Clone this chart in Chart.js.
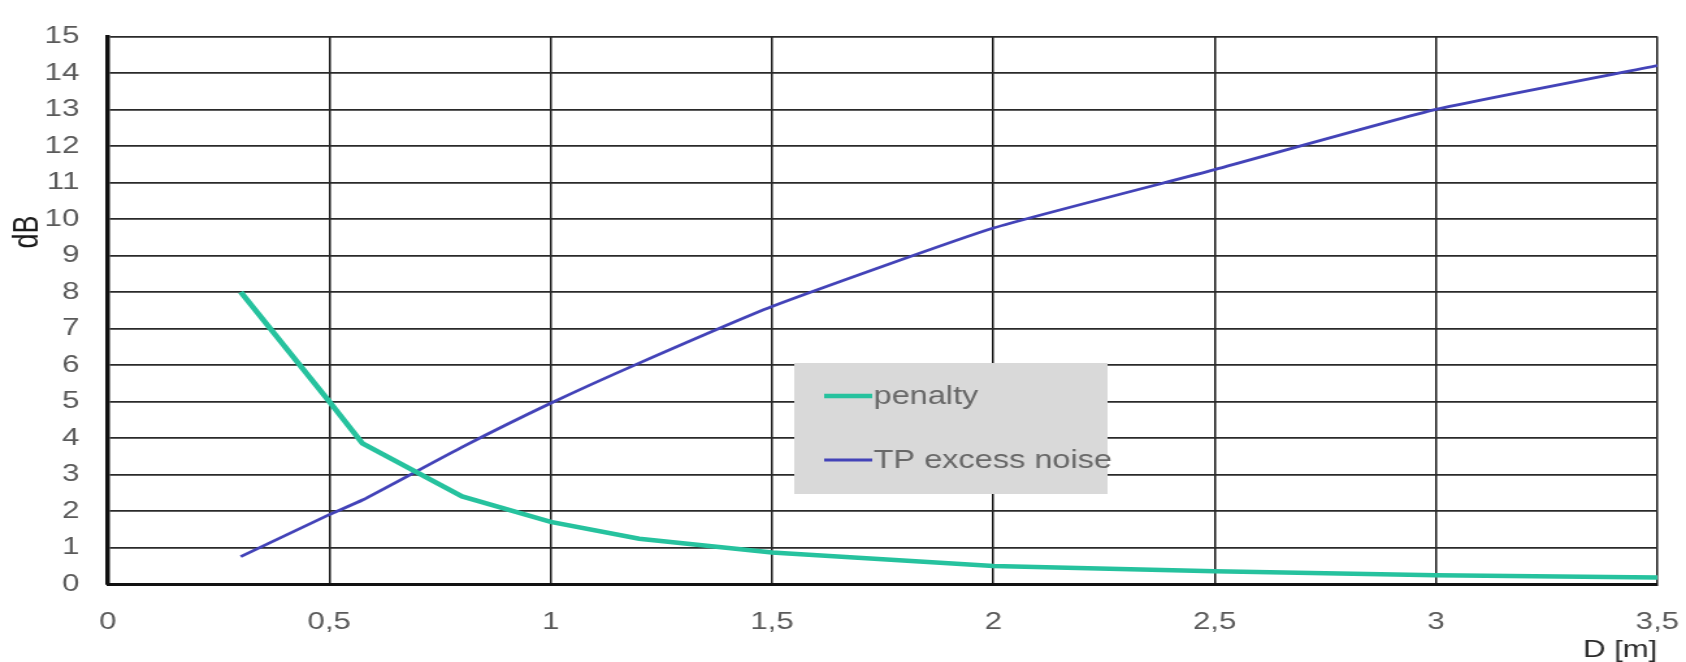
<!DOCTYPE html>
<html>
<head>
<meta charset="utf-8">
<script src="https://cdn.jsdelivr.net/npm/chart.js@4"></script>
<style>
  html, body { margin: 0; padding: 0; background: #fff; }
  #chart { display: block; }
</style>
</head>
<body>
<!-- the reference is stretched sideways, so the canvas is drawn narrower and widened by its inline style -->
<canvas id="chart" width="1297" height="662" style="width:1686px;height:662px"></canvas>
<script>
// Values
const distances = [0.3, 0.5, 0.575, 0.8, 1, 1.2, 1.5, 2, 2.5, 3, 3.5];
const penalty = [8, 5, 3.85, 2.4, 1.7, 1.24, 0.86, 0.49, 0.35, 0.24, 0.18];
const excessNoise = [0.75, 1.9, 2.3, 3.75, 4.95, 6.05, 7.6, 9.75, 11.35, 13.0, 14.2];
const seriesNames = ['penalty', 'TP excess noise'];
const seriesColors = ['#26c29e', '#4343b8'];
const xTitle = 'D [m]';
const yTitle = 'dB';

const FONT = '"Liberation Sans", Arial, sans-serif';

const toPoints = (ys) => distances.map((d, i) => ({ x: d, y: ys[i] }));

// Grey legend box inside the plot + the "dB" label
const extras = {
    id: 'extras',
    afterDatasetsDraw(chart) {
        const ctx = chart.ctx;
        const datasets = chart.data.datasets;
        ctx.save();
        ctx.fillStyle = '#d9d9d9';
        ctx.fillRect(611, 363, 241, 131);
        ctx.font = '25px ' + FONT;
        ctx.textBaseline = 'middle';
        ctx.fillStyle = '#686868';
        const rows = [396, 460];
        datasets.forEach((ds, i) => {
            ctx.strokeStyle = ds.borderColor;
            ctx.lineWidth = ds.borderWidth;
            ctx.beginPath();
            ctx.moveTo(634, rows[i]);
            ctx.lineTo(671, rows[i]);
            ctx.stroke();
            ctx.fillText(ds.label, 672, rows[i] + 1);
        });
        ctx.restore();
    },
    afterDraw(chart) {
        const ctx = chart.ctx;
        ctx.save();
        ctx.translate(22, 232);
        ctx.rotate(-Math.PI / 2);
        ctx.font = '27px ' + FONT;
        ctx.fillStyle = '#1a1a1a';
        ctx.textAlign = 'center';
        ctx.textBaseline = 'middle';
        ctx.fillText(yTitle, 0, 0);
        ctx.restore();
    }
};

new Chart(document.getElementById('chart'), {
    type: 'line',
    data: {
        datasets: [
            {
                label: seriesNames[0],
                data: toPoints(penalty),
                borderColor: seriesColors[0],
                backgroundColor: seriesColors[0],
                borderWidth: 4.5,
                pointRadius: 0,
                tension: 0
            },
            {
                label: seriesNames[1],
                data: toPoints(excessNoise),
                borderColor: seriesColors[1],
                backgroundColor: seriesColors[1],
                borderWidth: 2.8,
                pointRadius: 0,
                tension: 0.15
            }
        ]
    },
    options: {
        responsive: false,
        animation: false,
        layout: { padding: { top: 22, right: 22, left: 0, bottom: 0 } },
        plugins: {
            legend: { display: false },
            tooltip: { enabled: false }
        },
        scales: {
            x: {
                type: 'linear',
                min: 0,
                max: 3.5,
                afterFit: (scale) => {
                    scale.height = 78;
                    // keep the plot edge where the reference has it, the last label may overhang
                    scale.paddingLeft = 0;
                    scale.paddingRight = 0;
                },
                grid: { color: '#151515', lineWidth: 1.5, drawTicks: false },
                border: { color: '#111', width: 3 },
                ticks: {
                    stepSize: 0.5,
                    autoSkip: false,
                    maxRotation: 0,
                    padding: 24,
                    color: '#5a5a5a',
                    font: { family: FONT, size: 24 },
                    callback: (v) => String(v).replace('.', ',')
                },
                title: {
                    display: true,
                    text: xTitle,
                    align: 'end',
                    color: '#2a2a2a',
                    font: { family: FONT, size: 24 },
                    padding: { top: 0, bottom: -3 }
                }
            },
            y: {
                min: 0,
                max: 15,
                afterFit: (scale) => { scale.width = 83; },
                grid: { color: '#2a2a2a', lineWidth: 1.8, drawTicks: false },
                border: { color: '#111', width: 3.5 },
                ticks: {
                    stepSize: 1,
                    padding: 22,
                    color: '#5a5a5a',
                    font: { family: FONT, size: 24 }
                }
            }
        }
    },
    plugins: [extras]
});
</script>
</body>
</html>
